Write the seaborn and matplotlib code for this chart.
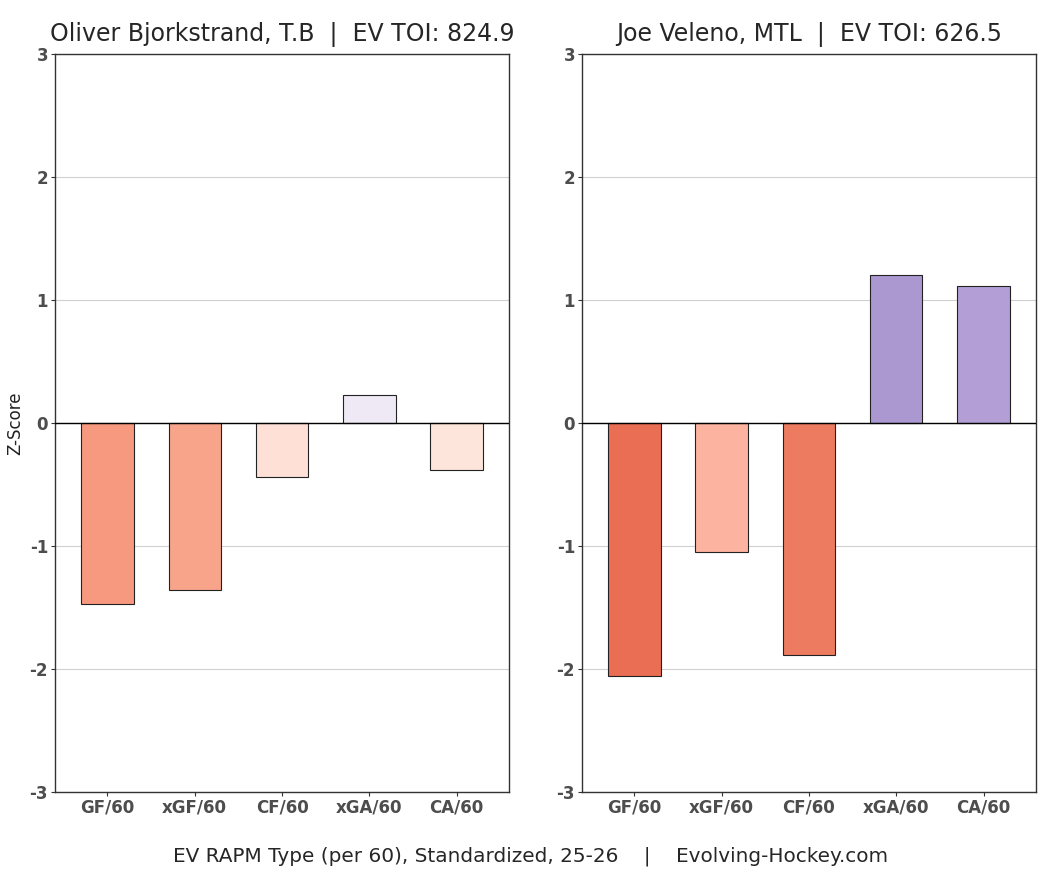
import numpy as np
import pandas as pd
import matplotlib
matplotlib.use("Agg")
import matplotlib.pyplot as plt
import seaborn as sns

# RAPM z-scores
categorias = ["GF/60", "xGF/60", "CF/60", "xGA/60", "CA/60"]

titulo_izq = "Oliver Bjorkstrand, T.B  |  EV TOI: 824.9"
valores_izq = [-1.47, -1.36, -0.44, 0.23, -0.38]
colores_izq = ["#f7997f", "#f8a48b", "#fee0d6", "#efe9f5", "#fee5dc"]

titulo_der = "Joe Veleno, MTL  |  EV TOI: 626.5"
valores_der = [-2.06, -1.05, -1.89, 1.20, 1.11]
colores_der = ["#ea6e53", "#fcb4a1", "#ed7b60", "#ab98d1", "#b39fd5"]

pie = "EV RAPM Type (per 60), Standardized, 25-26    |    Evolving-Hockey.com"

sns.set_style("white")
plt.rcParams['font.family'] = ['DejaVu Sans']

fig = plt.figure(figsize=(10.62, 8.75), dpi=100)
ax1 = fig.add_axes([0.0518, 0.0949, 0.4275, 0.8434])
ax2 = fig.add_axes([0.548, 0.0949, 0.4275, 0.8434])


def panel(ax, valores, colores, titulo, ylabel):
    df = pd.DataFrame({"tipo": categorias, "z": valores})
    ax.yaxis.grid(True, color="#d0d0d0", linewidth=0.8, zorder=0)
    ax.set_axisbelow(True)
    sns.barplot(data=df, x="tipo", y="z", hue="tipo", palette=colores,
                legend=False, width=0.6, saturation=1, edgecolor="#222222",
                linewidth=0.8, ax=ax, zorder=2)
    ax.axhline(0, color="black", linewidth=1.0, zorder=3)
    ax.set_ylim(-3, 3)
    ax.set_xlim(-0.6, 4.6)
    ax.set_yticks([-3, -2, -1, 0, 1, 2, 3])
    ax.set_yticklabels(["-3", "-2", "-1", "0", "1", "2", "3"])
    for lab in ax.get_xticklabels() + ax.get_yticklabels():
        lab.set_fontweight("bold")
        lab.set_color("#4d4d4d")
        lab.set_fontsize(12)
    ax.tick_params(axis="both", length=3, width=0.8, color="#333333", pad=2, left=True, bottom=True)
    for s in ax.spines.values():
        s.set_color("#333333")
        s.set_linewidth(1.0)
    ax.set_xlabel("")
    ax.set_ylabel(ylabel, fontsize=12, color="#222222")
    ax.set_title(titulo, fontsize=17, pad=9)


panel(ax1, valores_izq, colores_izq, titulo_izq, "Z-Score")
panel(ax2, valores_der, colores_der, titulo_der, "")

fig.text(0.5, 0.022, pie, ha="center", va="center", fontsize=14.4)

fig.savefig("out.png", dpi=100)
